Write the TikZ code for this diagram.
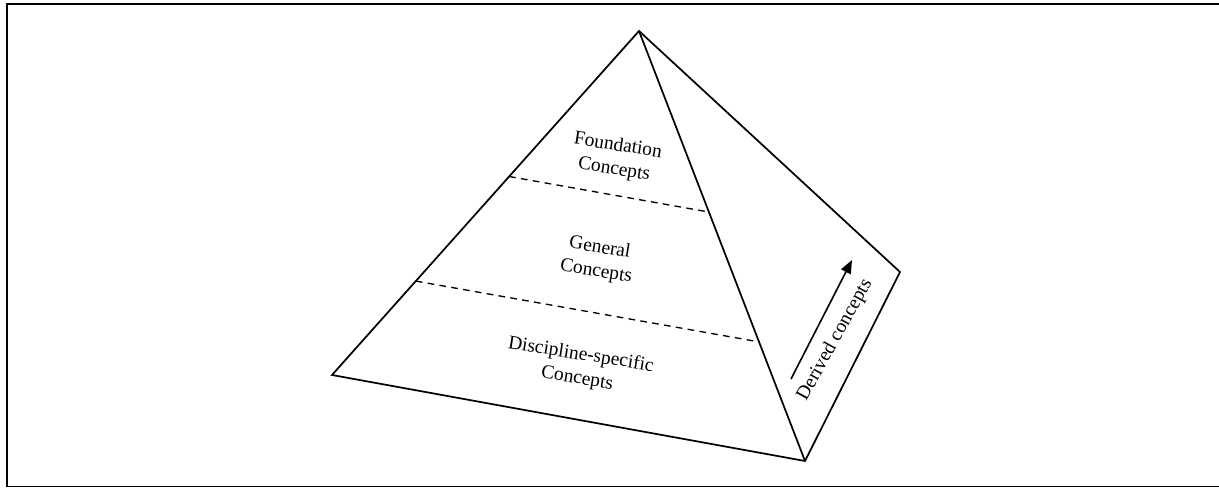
\documentclass[tikz,border=0pt]{standalone}
\usepackage{fontspec}
\setmainfont{Liberation Serif}
\usetikzlibrary{arrows.meta,calc}
\begin{document}
\begin{tikzpicture}[x=0.75pt,y=-0.75pt,
  frame/.style={line width=1.4pt},
  edge/.style={line width=1.3pt, line join=miter},
  level/.style={line width=1pt, dash pattern=on 5pt off 4pt},
  tier/.style={align=center, font=\fontsize{14.6}{18}\selectfont, rotate=-9, inner sep=0pt},
  flow/.style={line width=1.2pt, -{Triangle[length=10pt,width=8pt]}}]
\useasboundingbox (0,0) rectangle (1219,488);

% outer frame
\draw[frame] (1222,4) -- (7,4) -- (7,486.5) -- (1222,486.5);

% pyramid corners
\coordinate (apex) at (639,31);
\coordinate (lft)  at (332,375);
\coordinate (frnt) at (805,461);
\coordinate (rgt)  at (900,272);

% faces
\draw[edge] (lft) -- (apex) -- (rgt) -- (frnt) -- cycle;
\draw[edge] (apex) -- (frnt);

% tier boundaries on the front face
\coordinate (u1) at ($(apex)!0.423!(lft)$);
\coordinate (u2) at ($(apex)!0.421!(frnt)$);
\coordinate (l1) at ($(apex)!0.727!(lft)$);
\coordinate (l2) at ($(apex)!0.723!(frnt)$);
\draw[level] (u1) -- (u2);
\draw[level] (l1) -- (l2);

% tier labels
\node[tier] (found) at (616,158) {Foundation\\Concepts};
\node[tier] (gen)   at (598,260) {General\\Concepts};
\node[tier] (disc)  at (579,367) {Discipline-specific\\Concepts};

% derivation arrow on the side face
\coordinate (dtail) at (791,379);
\coordinate (dhead) at (852,260);
\draw[flow] (dtail) -- (dhead);
\node[font=\fontsize{14.6}{18}\selectfont, rotate=61, inner sep=0pt] (derived) at (835,340) {Derived concepts};
\end{tikzpicture}
\end{document}
